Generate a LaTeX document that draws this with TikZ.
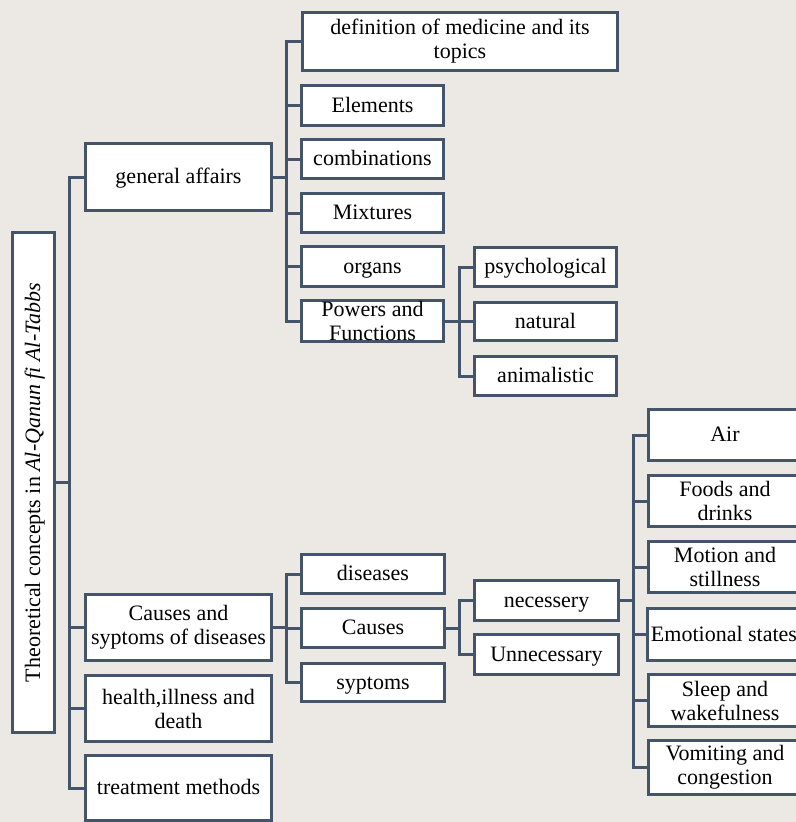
\documentclass[tikz,border=0pt]{standalone}
\usepackage{fontspec}
\setmainfont{Liberation Serif}
\definecolor{boxline}{HTML}{44546A}
\definecolor{paper}{HTML}{ECE9E4}
\tikzset{
  box/.style={draw=boxline, line width=3bp, fill=white, align=center, inner sep=1bp,
    font=\fontsize{22bp}{24bp}\selectfont},
  oneline/.style={box, text height=15bp, text depth=2bp},
  link/.style={draw=boxline, line width=3bp},
}
\begin{document}
\begin{tikzpicture}[x=1bp, y=-1bp]
%paper
	\useasboundingbox (0,0) rectangle (796,822);
	\fill[paper] (0,0) rectangle (796,822);

%root
	\node[oneline, rotate=90, minimum width=502, minimum height=42] (root) at (33.5, 482.5)
		{Theoretical concepts in \textit{Al-Qanun fi Al-Tabbs}};

%first level
	\node[oneline, minimum width=186, minimum height=67] (gen) at (178.5, 177) {general affairs};
	\node[box, minimum width=186, minimum height=66] (cau) at (178.5, 627.5) {Causes and\\syptoms of diseases};
	\node[box, minimum width=186, minimum height=66] (hea) at (178.5, 708.5) {health,illness and\\death};
	\node[oneline, minimum width=186, minimum height=66] (tre) at (178.5, 788) {treatment methods};

%general affairs
	\node[box, minimum width=317, minimum height=58] (def) at (460, 41.5) {definition of medicine and its\\topics};
	\foreach \name/\yy/\txt in {elem/105.5/Elements, comb/159/combinations, mix/213/Mixtures, org/266.5/organs} {
		\node[oneline, minimum width=142, minimum height=40] (\name) at (372.5, \yy) {\txt};
	}
	\node[box, minimum width=142, minimum height=41] (pow) at (372.5, 321) {Powers and\\Functions};

%powers
	\foreach \name/\yy/\txt in {psy/267/psychological, nat/321.5/natural, ani/376/animalistic} {
		\node[oneline, minimum width=142, minimum height=39] (\name) at (545.5, \yy) {\txt};
	}

%causes
	\foreach \name/\yy/\txt in {dis/574/diseases, cas/628/Causes, sym/682.5/syptoms} {
		\node[oneline, minimum width=143, minimum height=39] (\name) at (373, \yy) {\txt};
	}
	\node[oneline, minimum width=144, minimum height=40] (nec) at (546.5, 600.5) {necessery};
	\node[oneline, minimum width=144, minimum height=40] (unn) at (546.5, 654.5) {Unnecessary};

%necessery
	\node[oneline, minimum width=153, minimum height=51] (air) at (725, 435) {Air};
	\node[box, minimum width=153, minimum height=51] (foo) at (725, 501) {Foods and\\drinks};
	\node[box, minimum width=153, minimum height=51] (mot) at (725, 567) {Motion and\\stillness};
	\node[oneline, minimum width=153, minimum height=52] (emo) at (724, 634.5) {Emotional states};
	\node[box, minimum width=153, minimum height=52] (sle) at (725, 700.5) {Sleep and\\wakefulness};
	\node[box, minimum width=153, minimum height=54] (vom) at (725, 767.5) {Vomiting and\\congestion};

%links
	\foreach \child in {gen, cau, hea, tre} {
		\draw[link] (root.south) -- ++(14,0) |- (\child.west);
	}
	\foreach \child in {def, elem, comb, mix, org, pow} {
		\draw[link] (gen.east) -- ++(14,0) |- (\child.west);
	}
	\foreach \child in {psy, nat, ani} {
		\draw[link] (pow.east) -- ++(15,0) |- (\child.west);
	}
	\foreach \child in {dis, cas, sym} {
		\draw[link] (cau.east) -- ++(14,0) |- (\child.west);
	}
	\foreach \child in {nec, unn} {
		\draw[link] (cas.east) -- ++(14,0) |- (\child.west);
	}
	\foreach \child in {air, foo, mot, emo, sle, vom} {
		\draw[link] (nec.east) -- ++(14,0) |- (\child.west);
	}

\end{tikzpicture}
\end{document}
